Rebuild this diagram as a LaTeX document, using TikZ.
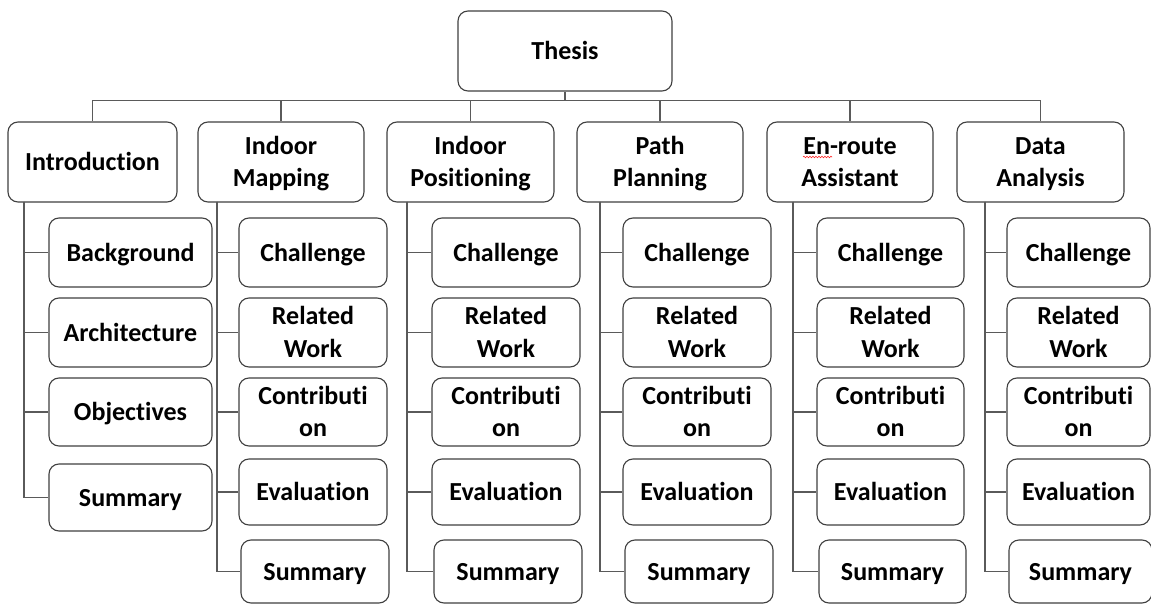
\documentclass[tikz,border=0pt]{standalone}
\usepackage{fontspec}
\setmainfont{Carlito}[Ligatures=NoCommon]
\usetikzlibrary{decorations.pathmorphing}
\definecolor{edgegray}{HTML}{404040}
\definecolor{wiregray}{HTML}{5A5A5A}

% line strut so one- and two-line labels sit alike
\newcommand\lst{\rule[-7.75pt]{0pt}{32.5pt}}
% separate t and i (no ti ligature)
\newcommand\tti{t\kern0pt i}
% rounded box given by its corners: name, x1, y1, x2, y2, text
\newcommand\mkbox[6]{%
  \pgfmathsetmacro\bxw{(#4)-(#2)}\pgfmathsetmacro\bxh{(#5)-(#3)}%
  \pgfmathsetmacro\bxx{((#2)+(#4))/2}\pgfmathsetmacro\bxy{((#3)+(#5))/2}%
  \node[box, minimum width=\bxw pt, minimum height=\bxh pt] (#1) at (\bxx,\bxy) {#6};}

\begin{document}
\begin{tikzpicture}[x=1pt,y=-1pt,
  box/.style={draw=edgegray, line width=1.1pt, rounded corners=10pt, fill=white,
    inner sep=0pt, align=center, text=black,
    font=\fontsize{26}{32.5}\selectfont\bfseries},
  wire/.style={draw=wiregray, line width=1.1pt}]
\useasboundingbox[fill=white] (0,0) rectangle (1151,604);

% root
\mkbox{thesis}{458}{11}{672}{91}{\lst Thesis}

% chapters
\mkbox{intro}{8}{122}{177}{202}{\lst Introduc\tti on}
\mkbox{map}{198}{122}{364}{202}{\lst Indoor\\\lst Mapping}
\mkbox{pos}{387}{122}{554}{202}{\lst Indoor\\\lst Posi\tti oning}
\mkbox{pla}{577}{122}{743}{202}{\lst Path\\\lst Planning}
\mkbox{enr}{767}{122}{933}{202}{\lst En-route\\\lst Assistant}
\mkbox{dat}{957}{122}{1124}{202}{\lst Data\\\lst Analysis}

% bus from the root to every chapter
\draw[wire] (thesis.south) -- ++(0,9) coordinate (bus);
\foreach \p in {intro,map,pos,pla,enr,dat}
  \draw[wire] (bus) -| (\p.north);

% introduction sections
\mkbox{intro-1}{49}{218}{212}{287}{\lst Background}
\mkbox{intro-2}{49}{298}{212}{367}{\lst Architecture}
\mkbox{intro-3}{49}{378}{212}{446}{\lst Objec\tti ves}
\mkbox{intro-4}{49}{464}{212}{531}{\lst Summary}
\coordinate (intro-sp) at (24,202);
\foreach \k in {1,...,4}
  \draw[wire] (intro-sp) |- (intro-\k.west);

% sections of the technical chapters
\foreach \c/\xa/\xb/\sp in {map/239/387/217, pos/432/580/407, pla/623/771/600,
                            enr/817/964/793, dat/1007/1150/985} {
  \mkbox{\c-1}{\xa}{218}{\xb}{287}{\lst Challenge}
  \mkbox{\c-2}{\xa}{298}{\xb}{367}{\lst Related\\\lst Work}
  \mkbox{\c-3}{\xa}{378}{\xb}{446}{\lst Contribu\tti\\\lst on}
  \mkbox{\c-4}{\xa}{459}{\xb}{525}{\lst Evalua\tti on}
  \mkbox{\c-5}{\xa+2}{540}{\xb+2}{603}{\lst Summary}
  \coordinate (\c-sp) at (\sp,202);
  \foreach \k in {1,...,5}
    \draw[wire] (\c-sp) |- (\c-\k.west);
}

% spell-check squiggle under "En"
\draw[red!85!white, line width=0.6pt, decorate,
      decoration={snake, amplitude=0.8pt, segment length=3pt}]
  (803,157) -- (832,157);
\end{tikzpicture}
\end{document}
